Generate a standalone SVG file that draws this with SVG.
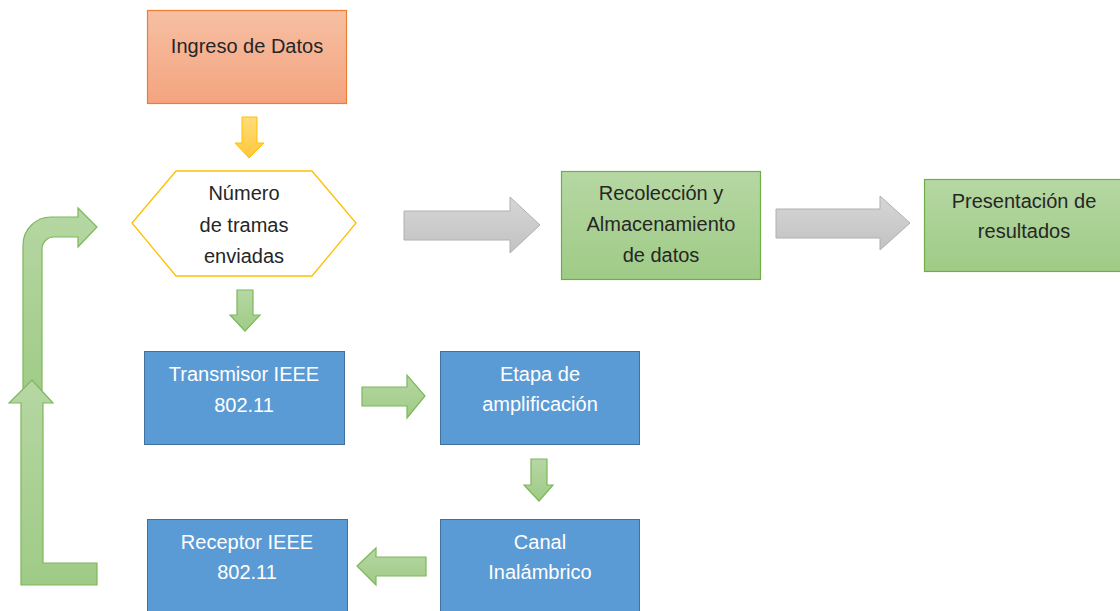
<svg xmlns="http://www.w3.org/2000/svg" width="1120" height="611" viewBox="0 0 1120 611">
  <defs>
    <linearGradient id="gOrange" x1="0" y1="0" x2="0" y2="1">
      <stop offset="0" stop-color="#f6bfa3"/>
      <stop offset="1" stop-color="#f4a47f"/>
    </linearGradient>
    <linearGradient id="gGreen" x1="0" y1="0" x2="0" y2="1">
      <stop offset="0" stop-color="#b6d7a3"/>
      <stop offset="1" stop-color="#9fcb86"/>
    </linearGradient>
    <linearGradient id="gGray" x1="0" y1="0" x2="0" y2="1">
      <stop offset="0" stop-color="#d6d6d6"/>
      <stop offset="1" stop-color="#c2c2c2"/>
    </linearGradient>
    <linearGradient id="gYellow" x1="0" y1="0" x2="0" y2="1">
      <stop offset="0" stop-color="#ffdc7a"/>
      <stop offset="1" stop-color="#ffc83a"/>
    </linearGradient>
    <style>
      .txt { font-family: "Liberation Sans", Arial, sans-serif; font-size: 20px; text-anchor: middle; }
      .dark { fill: #262626; }
      .light { fill: #ffffff; }
      .blue { fill: #5b9bd5; stroke: #41719c; stroke-width: 1; }
      .green { fill: url(#gGreen); stroke: #70ad47; stroke-width: 1.2; }
      .garrow { fill: url(#gGreen); stroke: #7cb75a; stroke-width: 1.2; stroke-linejoin: miter; }
      .gray { fill: url(#gGray); stroke: #b0b0b0; stroke-width: 1; }
      .yellow { fill: url(#gYellow); stroke: #ffc000; stroke-width: 1; }
    </style>
  </defs>

  <!-- connectors -->
  <g id="connectors">
    <!-- Ingreso -> Número (down) -->
    <polygon class="yellow" points="242,117 257,117 257,143 264,143 249,158 235,143 242,143"/>
    <!-- Número -> Recolección -->
    <polygon class="gray" points="404,211 510,211 510,197 540,225 510,253 510,240 404,240"/>
    <!-- Recolección -> Presentación -->
    <polygon class="gray" points="776,209 880,209 880,196 910,223 880,250 880,238 776,238"/>
    <!-- Número -> Transmisor (down) -->
    <polygon class="garrow" points="237,290 253,290 253,315 260,315 245,331 230,315 237,315"/>
    <!-- Transmisor -> Etapa -->
    <polygon class="garrow" points="362,387 407,387 407,375 425,396 407,418 407,406 362,406"/>
    <!-- Etapa -> Canal (down) -->
    <polygon class="garrow" points="531,459 547,459 547,485 553,485 539,501 524,485 531,485"/>
    <!-- Canal -> Receptor -->
    <polygon class="garrow" points="426,557 376,557 376,548 357,566 376,585 376,576 426,576"/>
    <!-- feedback loop: bent arrow toward Número -->
    <path class="garrow" d="M23,400 L23,245 A28,28 0 0 1 51,217 L78,217 L78,208 L97,227 L78,247 L78,237 L54,237 A12,12 0 0 0 42,249 L42,400 Z"/>
    <!-- feedback loop: L arrow from Receptor -->
    <polygon class="garrow" points="21,585 97,585 97,563 43,563 43,403 53,403 32,380 9,403 21,403"/>
  </g>

  <g id="ingreso">
    <rect x="147.5" y="10.5" width="199" height="93" fill="url(#gOrange)" stroke="#ed7d31" stroke-width="1.2"/>
    <text class="txt dark" x="247" y="53">Ingreso de Datos</text>
  </g>

  <g id="numero">
    <polygon points="132,223 176,171 312,171 356,223 312,276 176,276" fill="#ffffff" stroke="#ffc000" stroke-width="1.3"/>
    <text class="txt dark" x="244" y="200">Número</text>
    <text class="txt dark" x="244" y="232">de tramas</text>
    <text class="txt dark" x="244" y="263">enviadas</text>
  </g>

  <g id="recoleccion">
    <rect class="green" x="561.5" y="171.5" width="199" height="108"/>
    <text class="txt dark" x="661" y="200">Recolección y</text>
    <text class="txt dark" x="661" y="231">Almacenamiento</text>
    <text class="txt dark" x="661" y="262">de datos</text>
  </g>

  <g id="presentacion">
    <rect class="green" x="924.5" y="179.5" width="200" height="92"/>
    <text class="txt dark" x="1024" y="208">Presentación de</text>
    <text class="txt dark" x="1024" y="238">resultados</text>
  </g>

  <g id="transmisor">
    <rect class="blue" x="144.5" y="351.5" width="200" height="93"/>
    <text class="txt light" x="244" y="381">Transmisor IEEE</text>
    <text class="txt light" x="244" y="412">802.11</text>
  </g>

  <g id="etapa">
    <rect class="blue" x="440.5" y="351.5" width="199" height="93"/>
    <text class="txt light" x="540" y="381">Etapa de</text>
    <text class="txt light" x="540" y="411">amplificación</text>
  </g>

  <g id="canal">
    <rect class="blue" x="440.5" y="519.5" width="199" height="100"/>
    <text class="txt light" x="540" y="549">Canal</text>
    <text class="txt light" x="540" y="579">Inalámbrico</text>
  </g>

  <g id="receptor">
    <rect class="blue" x="147.5" y="519.5" width="200" height="100"/>
    <text class="txt light" x="247" y="549">Receptor IEEE</text>
    <text class="txt light" x="247" y="579">802.11</text>
  </g>
</svg>
